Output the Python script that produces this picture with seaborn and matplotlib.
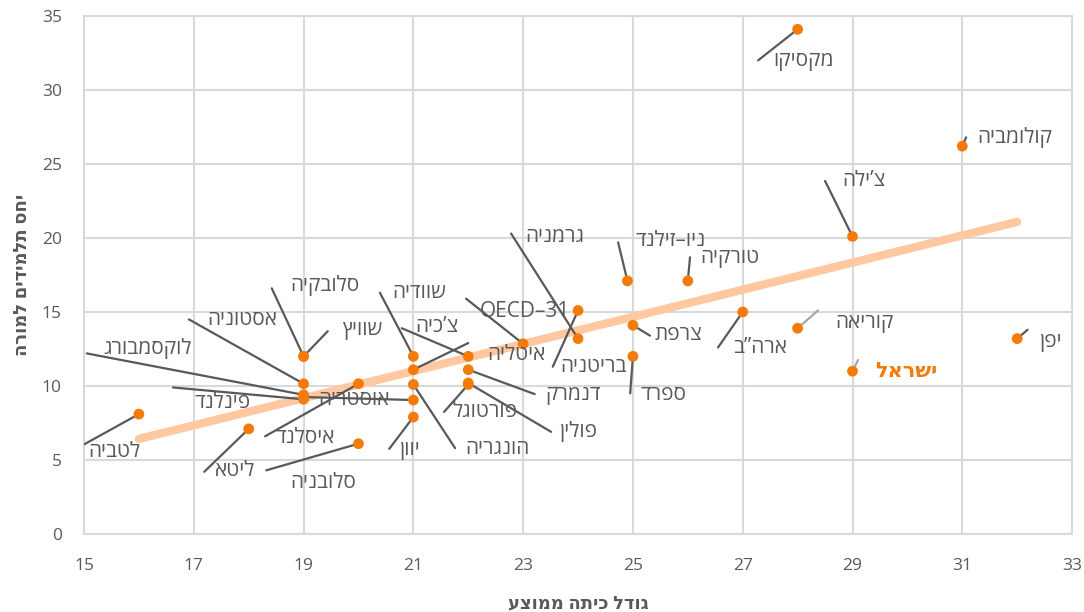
import numpy as np
import pandas as pd
import matplotlib
matplotlib.use("Agg")
import matplotlib.pyplot as plt
import seaborn as sns

# data: average class size vs. students per teacher
countries = ["מקסיקו", "קולומביה", "צ’ילה", "יפן", "ישראל", "קוריאה", "ארה”ב", "טורקיה",
             "ניו–זילנד", "צרפת", "ספרד", "בריטניה", "גרמניה", "OECD–31", "איטליה", "צ’כיה",
             "שוודיה", "דנמרק", "פורטוגל", "פולין", "הונגריה", "יוון", "אוסטריה", "איסלנד",
             "סלובניה", "ליטא", "לטביה", "פינלנד", "לוקסמבורג", "אסטוניה", "סלובקיה", "שוויץ"]
class_size = [28, 31, 29, 32, 29, 28, 27, 26,
              24.9, 25, 25, 24, 24, 23, 21, 22,
              21, 22, 22, 22, 21, 21, 21, 20,
              20, 18, 16, 19, 19, 19, 19, 19]
ratio = [34.1, 26.2, 20.1, 13.2, 11.0, 13.9, 15.0, 17.1,
         17.1, 14.1, 12.0, 15.1, 13.2, 12.85, 11.1, 12.0,
         12.0, 11.1, 10.1, 10.2, 10.1, 7.9, 9.05, 10.15,
         6.1, 7.1, 8.1, 9.1, 9.4, 10.15, 12.0, 12.0]
x_ticks = list(range(15, 34, 2))
y_ticks = list(range(0, 36, 5))
x_title = "גודל כיתה ממוצע"
y_title = "יחס תלמידים למורה"

# label layout: leader line end (x, y) and label left edge (x, y)
label_pos = {
    "מקסיקו": (27.28, 32.0, 27.55, 32.0),
    "קולומביה": (31.07, 26.8, 31.27, 26.8),
    "צ’ילה": (28.50, 23.85, 28.81, 23.85),
    "יפן": (32.19, 13.8, 32.41, 13.0),
    "ישראל": (29.10, 11.75, 29.41, 11.0),
    "קוריאה": (28.37, 15.1, 28.68, 14.3),
    "ארה”ב": (26.55, 12.6, 26.82, 12.6),
    "טורקיה": (26.04, 18.7, 26.22, 18.65),
    "ניו–זילנד": (24.73, 19.7, 25.04, 19.8),
    "צרפת": (25.31, 13.4, 25.40, 13.45),
    "ספרד": (24.95, 9.5, 25.13, 9.45),
    "בריטניה": (23.54, 11.3, 23.67, 11.3),
    "גרמניה": (22.78, 20.3, 23.03, 20.1),
    "OECD–31": (21.96, 15.9, 22.21, 15.0),
    "איטליה": (22.00, 12.9, 22.34, 12.1),
    "צ’כיה": (20.79, 13.9, 21.03, 14.05),
    "שוודיה": (20.39, 16.3, 20.61, 16.3),
    "דנמרק": (23.21, 9.45, 23.40, 9.45),
    "פורטוגל": (21.56, 8.25, 21.72, 8.3),
    "פולין": (23.51, 6.9, 23.67, 6.9),
    "הונגריה": (21.76, 5.8, 21.94, 5.8),
    "יוון": (20.56, 5.75, 20.76, 5.7),
    "אוסטריה": (19.03, 9.25, 19.26, 9.1),
    "איסלנד": (18.30, 6.6, 18.48, 6.55),
    "סלובניה": (18.32, 4.3, 18.75, 3.5),
    "ליטא": (17.19, 4.2, 17.39, 4.3),
    "לטביה": (14.78, 5.6, 15.07, 5.6),
    "פינלנד": (16.62, 9.9, 17.02, 8.9),
    "לוקסמבורג": (15.05, 12.2, 15.35, 12.5),
    "אסטוניה": (16.91, 14.5, 17.24, 14.46),
    "סלובקיה": (18.42, 16.6, 18.75, 16.8),
    "שוויץ": (19.44, 13.7, 19.70, 13.8),
}


def heb(s):
    # matplotlib draws left to right, so flip hebrew strings for display
    if any("\u0590" <= ch <= "\u05ff" for ch in s):
        return s[::-1]
    return s


df = pd.DataFrame({"country": countries, "class_size": class_size, "ratio": ratio})

sns.set_style("white")
plt.rcParams["font.family"] = ["Open Sans", "DejaVu Sans"]

grey = "#595959"
orange = "#F47A0A"

fig = plt.figure(figsize=(10.84, 6.12), dpi=100)
ax = fig.add_axes([0.0775, 0.1275, 0.9115, 0.8464])

sns.regplot(data=df, x="class_size", y="ratio", scatter=False, ci=None, ax=ax,
            line_kws={"color": "#FFC8A0", "lw": 6, "solid_capstyle": "round", "zorder": 2})

for _, row in df.iterrows():
    lx, ly, tx, ty = label_pos[row["country"]]
    is_isr = row["country"] == "ישראל"
    lc = "#A6A6A6" if row["country"] in ("ישראל", "קוריאה") else grey
    ax.plot([lx, row["class_size"]], [ly, row["ratio"]], color=lc, lw=1.6, zorder=3)
    ax.text(tx, ty, heb(row["country"]), ha="left", va="center",
            fontsize=15, color=orange if is_isr else grey,
            fontweight="bold" if is_isr else "normal", zorder=5)

sns.scatterplot(data=df, x="class_size", y="ratio", color=orange, s=60,
                edgecolor="none", ax=ax, zorder=4)

ax.set_xlim(15, 33)
ax.set_ylim(0, 35)
ax.set_xticks(x_ticks)
ax.set_yticks(y_ticks)
ax.grid(True, color="#D9D9D9", lw=1.5)
ax.set_axisbelow(True)
for sp in ax.spines.values():
    sp.set_color("#D9D9D9")
    sp.set_linewidth(1.5)
ax.tick_params(length=0, labelsize=12.5, labelcolor=grey)
ax.tick_params(axis="x", pad=17)
ax.tick_params(axis="y", pad=16)
ax.set_xlabel(heb(x_title), fontsize=13, fontweight="bold", color=grey, labelpad=15)
ax.set_ylabel(heb(y_title), fontsize=13, fontweight="bold", color=grey, labelpad=8)

fig.savefig("out.png", dpi=100)
